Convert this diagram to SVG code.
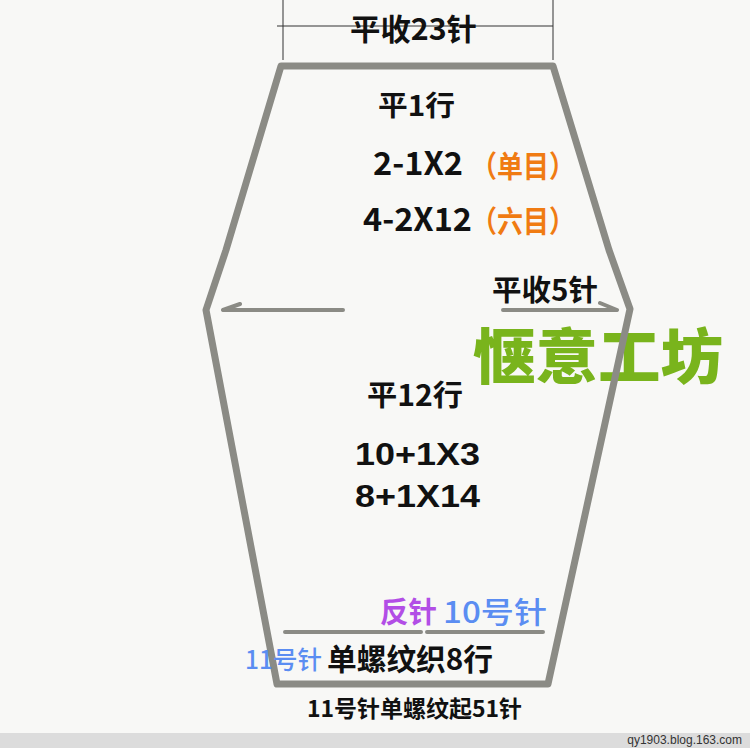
<svg xmlns="http://www.w3.org/2000/svg" width="750" height="748" viewBox="0 0 750 748">
<style>
.b{font-family:"Noto Sans CJK SC","Noto Sans",sans-serif;font-weight:bold;fill:#111}
.d{font-family:"Liberation Sans",Arial,sans-serif;font-weight:bold;fill:#111}
.o{font-family:"Noto Sans CJK SC",sans-serif;font-weight:bold;fill:#f07b12}
.bl{font-family:"Noto Sans CJK SC",sans-serif;font-weight:500;fill:#5b8df2}
.pu{font-family:"Noto Sans CJK SC",sans-serif;font-weight:bold;fill:#b24ee6}
.g{font-family:"Noto Sans CJK SC",sans-serif;font-weight:900;fill:#79b41c}
.pen{fill:none;stroke:#8b8b85;stroke-linecap:round;stroke-linejoin:round}
.dim{fill:none;stroke:#333;stroke-width:1}
</style>
<rect width="750" height="748" fill="#f8f8f6"/>
<g id="watermark"><text class="g" x="473" y="379" font-size="60" textLength="250" lengthAdjust="spacingAndGlyphs">惬意工坊</text></g>
<g id="outline"><polygon class="pen" stroke-width="7" points="281,66 553,66 609,250 630,309 548,684 277,684 206,310 226,250"/></g>
<g id="connectors">
<path class="dim" d="M283,0 V60 M553,0 V60 M277,26 H553"/>
<path class="pen" stroke-width="4" d="M343,310 H223 M223,310 L240,304"/>
<path class="pen" stroke-width="4" d="M503,310 H617 M617,310 L600,303"/>
<path class="pen" stroke-width="4" d="M285,632 H421 M427,632 H543"/>
</g>
<g id="top-label"><text class="b" x="350" y="40" font-size="30" textLength="127" lengthAdjust="spacingAndGlyphs">平收23针</text></g>
<g id="row1"><text class="b" x="378" y="116" font-size="28" textLength="77" lengthAdjust="spacingAndGlyphs">平1行</text></g>
<g id="row2"><text class="b" x="373" y="175" font-size="32" textLength="90" lengthAdjust="spacingAndGlyphs">2-1X2</text><text class="o" x="471" y="177" font-size="30" textLength="104" lengthAdjust="spacingAndGlyphs">（单目）</text></g>
<g id="row3"><text class="b" x="363" y="231" font-size="32" textLength="109" lengthAdjust="spacingAndGlyphs">4-2X12</text><text class="o" x="471" y="232" font-size="30" textLength="104" lengthAdjust="spacingAndGlyphs">（六目）</text></g>
<g id="bind-off5"><text class="b" x="492" y="301" font-size="29" textLength="106" lengthAdjust="spacingAndGlyphs">平收5针</text></g>
<g id="row12"><text class="b" x="367" y="406" font-size="29" textLength="96" lengthAdjust="spacingAndGlyphs">平12行</text></g>
<g id="inc1"><text class="d" x="355" y="465" font-size="31" textLength="125" lengthAdjust="spacingAndGlyphs">10+1X3</text></g>
<g id="inc2"><text class="d" x="355" y="507" font-size="31" textLength="125" lengthAdjust="spacingAndGlyphs">8+1X14</text></g>
<g id="needle10"><text class="pu" x="380" y="623" font-size="29" textLength="57" lengthAdjust="spacingAndGlyphs">反针</text><text class="bl" x="443" y="623" font-size="30" textLength="104" lengthAdjust="spacingAndGlyphs">10号针</text></g>
<g id="rib"><text class="bl" x="245" y="669" font-size="25" textLength="77" lengthAdjust="spacingAndGlyphs">11号针</text><text class="b" x="327" y="670" font-size="30" textLength="166" lengthAdjust="spacingAndGlyphs">单螺纹织8行</text></g>
<g id="cast-on"><text class="b" x="307" y="717" font-size="23" textLength="215" lengthAdjust="spacingAndGlyphs">11号针单螺纹起51针</text></g>
<g id="footer"><rect x="0" y="733" width="750" height="15" fill="#dcdcdc"/><text x="742" y="744" font-size="12" text-anchor="end" fill="#333" font-family="Liberation Sans,Arial,sans-serif">qy1903.blog.163.com</text></g>
</svg>
